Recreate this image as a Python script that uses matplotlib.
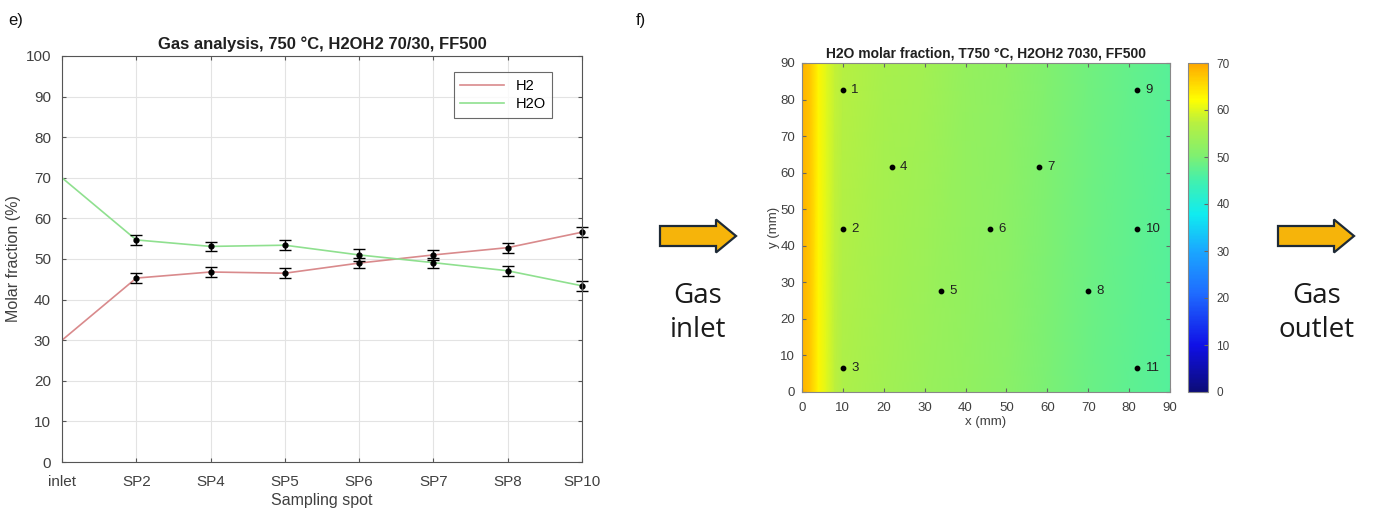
import numpy as np
import matplotlib
matplotlib.use("Agg")
import matplotlib.pyplot as plt
from matplotlib.colors import LinearSegmentedColormap
from matplotlib.patches import FancyArrow

plt.rcParams['font.family'] = ['Liberation Sans', 'DejaVu Sans']

# ---- e) gas analysis data
spots = ['inlet', 'SP2', 'SP4', 'SP5', 'SP6', 'SP7', 'SP8', 'SP10']
h2 = [30.0, 45.3, 46.8, 46.5, 49.0, 51.0, 52.8, 56.6]
h2o = [70.0, 54.7, 53.1, 53.4, 51.0, 49.1, 47.1, 43.4]
h2_err = [0, 1.2, 1.2, 1.2, 1.3, 1.2, 1.2, 1.2]
h2o_err = [0, 1.3, 1.2, 1.2, 1.4, 1.2, 1.2, 1.3]

# ---- f) H2O field, profile read along x (mm), two rows in y
field_x = [0, 2, 4, 6, 8, 10, 20, 30, 40, 50, 60, 70, 80, 90]
field_y = [0, 90]
field_bottom = [69, 67, 63, 60, 57.5, 56, 54.5, 53.5, 52.5, 51.5, 50, 48.5, 47.5, 46.5]
field_top = [69, 67, 63, 60, 58, 57, 55.5, 54.5, 53, 52, 50.5, 49, 48, 47]

# sampling points on the cell
pt_labels = ['1', '2', '3', '4', '5', '6', '7', '8', '9', '10', '11']
pt_x = [10, 10, 10, 22, 34, 46, 58, 70, 82, 82, 82]
pt_y = [82.5, 44.5, 6.5, 61.5, 27.5, 44.5, 61.5, 27.5, 82.5, 44.5, 6.5]

cmap = LinearSegmentedColormap.from_list('h2o', [
    (0.00, '#0c0c78'), (0.14, '#1010e6'), (0.30, '#1f6cff'),
    (0.43, '#1aa8ff'), (0.54, '#10ecf0'), (0.64, '#40f0b0'),
    (0.72, '#80f070'), (0.82, '#b8f040'), (0.89, '#ffff00'),
    (1.00, '#ffa800')])

W, H = 1375, 515
fig = plt.figure(figsize=(W / 100, H / 100), dpi=100, facecolor='white')

def fbox(x0, y0, x1, y1):
    # pixel box -> figure fraction [left, bottom, width, height]
    return [x0 / W, 1 - y1 / H, (x1 - x0) / W, (y1 - y0) / H]

tick_col = '#404040'

# ---------------- e) line chart
ax = fig.add_axes(fbox(62, 56, 582, 462))
xs = np.arange(len(spots))
ax.plot(xs, h2, color='#d98a8c', lw=1.2, label='H2')
ax.plot(xs, h2o, color='#8fe08f', lw=1.2, label='H2O')
for vals, errs in ((h2, h2_err), (h2o, h2o_err)):
    eb = ax.errorbar(xs[1:], vals[1:], yerr=errs[1:], fmt='o', ms=3.5,
                     color='black', ecolor='black', elinewidth=1.0,
                     capsize=4, capthick=1.0)
    for art in eb.lines[0:1] + tuple(eb.lines[1]) + tuple(eb.lines[2]):
        art.set_clip_on(False)
ax.set_xlim(0, len(spots) - 1)
ax.set_ylim(0, 100)
ax.set_xticks(xs)
ax.set_xticklabels(spots)
ax.set_yticks(np.arange(0, 101, 10))
ax.grid(True, color='#e3e3e3', lw=0.8)
ax.set_axisbelow(True)
ax.tick_params(direction='in', top=True, right=True, labelsize=11,
               colors='#555555', labelcolor=tick_col, length=3)
ax.tick_params(axis='x', pad=9)
ax.tick_params(axis='y', pad=8)
for s in ax.spines.values():
    s.set_color('#555555')
ax.set_title('Gas analysis, 750 °C, H2OH2 70/30, FF500', fontsize=12,
             fontweight='bold', color='#202020', pad=5)
ax.set_xlabel('Sampling spot', fontsize=11.5, color=tick_col, labelpad=3)
ax.set_ylabel('Molar fraction (%)', fontsize=11.5, color=tick_col, labelpad=3)
leg = ax.legend(loc='upper right', bbox_to_anchor=(0.957, 0.978), fontsize=10.5,
                frameon=True, fancybox=False, handlelength=3.0,
                borderpad=0.45, labelspacing=0.3)
leg.get_frame().set_edgecolor('#444444')
leg.get_frame().set_linewidth(0.8)

# ---------------- f) heatmap
ax2 = fig.add_axes(fbox(802, 63, 1170, 392))
Z = np.array([field_bottom, field_top])
mesh = ax2.pcolormesh(field_x, field_y, Z, cmap=cmap, vmin=0, vmax=70,
                      shading='gouraud')
ax2.scatter(pt_x, pt_y, s=10, color='black', zorder=3)
for lab, px, py in zip(pt_labels, pt_x, pt_y):
    ax2.text(px + 2.0, py, lab, fontsize=9.5, color='#202020', va='center', ha='left')
ax2.set_xlim(0, 90)
ax2.set_ylim(0, 90)
ax2.set_xticks(np.arange(0, 91, 10))
ax2.set_yticks(np.arange(0, 91, 10))
ax2.tick_params(direction='in', top=True, right=True, labelsize=9.5,
                colors='#666666', labelcolor=tick_col, length=3)
ax2.tick_params(axis='x', pad=7)
ax2.tick_params(axis='y', pad=5)
for s in ax2.spines.values():
    s.set_color('#888888')
ax2.set_title('H2O molar fraction, T750 °C, H2OH2 7030, FF500', fontsize=10,
              fontweight='bold', color='#202020', pad=4)
ax2.set_xlabel('x (mm)', fontsize=9.5, color=tick_col, labelpad=2)
ax2.set_ylabel('y (mm)', fontsize=9.5, color=tick_col, labelpad=0)

cax = fig.add_axes(fbox(1188, 63, 1208, 392))
cb = fig.colorbar(mesh, cax=cax, ticks=np.arange(0, 71, 10))
cb.outline.set_edgecolor('#888888')
cax.tick_params(direction='in', labelsize=8.5, colors='#666666',
                labelcolor=tick_col, length=3, pad=6)

# ---------------- annotations (panel letters, arrows, gas text)
ov = fig.add_axes([0, 0, 1, 1], facecolor='none')
ov.set_xlim(0, W)
ov.set_ylim(H, 0)
ov.axis('off')
ov.text(8, 20, 'e)', fontsize=12, va='center', ha='left', color='#111111')
ov.text(636, 20, 'f)', fontsize=12, va='center', ha='left', color='#111111')
for x0 in (660, 1278):
    ov.add_patch(FancyArrow(x0, 236, 56, 0, width=20, head_width=33,
                            head_length=20, length_includes_head=False,
                            facecolor='#f6b40a', edgecolor='#1e2a36', lw=1.6))
for cx, word in ((698, 'inlet'), (1317, 'outlet')):
    ov.text(cx, 296, 'Gas', fontsize=20, ha='center', va='center',
            family=['Open Sans', 'DejaVu Sans'], color='#1a1a1a')
    ov.text(cx, 330, word, fontsize=20, ha='center', va='center',
            family=['Open Sans', 'DejaVu Sans'], color='#1a1a1a')

fig.savefig('out.png', dpi=100)
